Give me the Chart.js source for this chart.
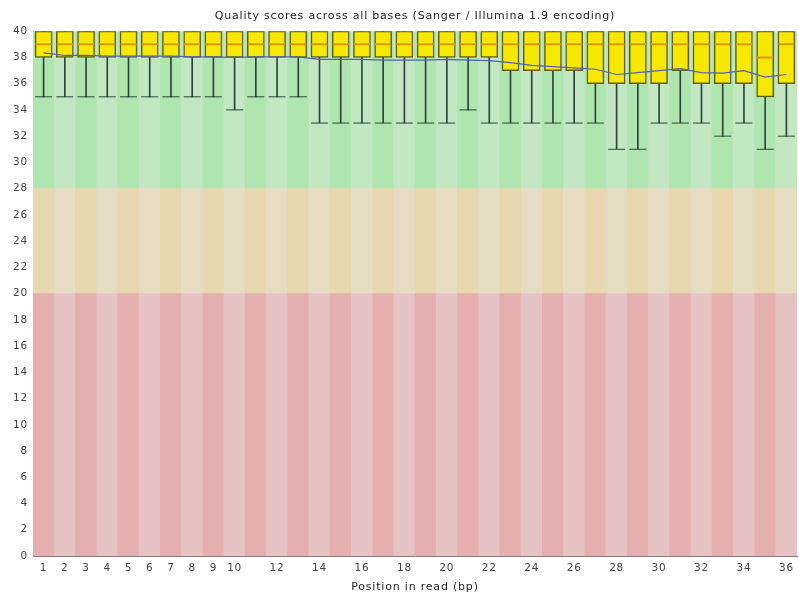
<!DOCTYPE html>
<html>
<head>
<meta charset="utf-8">
<script src="https://cdn.jsdelivr.net/npm/chart.js@4.4.0/dist/chart.umd.min.js"></script>
<style>
  body { margin: 0; background: #fff; }
  #wrap { width: 799px; height: 594px; }
</style>
</head>
<body>
<div id="wrap"><canvas id="myChart" width="799" height="594"></canvas></div>
<script>
    // per-base quality summary, positions 1..36
    var positions = [];
    for (var i = 1; i <= 36; i++) positions.push(String(i));

    var lowerQuartile = [38, 38, 38, 38, 38, 38, 38, 38, 38, 38, 38, 38, 38, 38, 38, 38, 38, 38,
                         38, 38, 38, 38, 37, 37, 37, 37, 36, 36, 36, 36, 37, 36, 36, 36, 35, 36];
    var upperQuartile = [40, 40, 40, 40, 40, 40, 40, 40, 40, 40, 40, 40, 40, 40, 40, 40, 40, 40,
                         40, 40, 40, 40, 40, 40, 40, 40, 40, 40, 40, 40, 40, 40, 40, 40, 40, 40];
    var medians = [39, 39, 39, 39, 39, 39, 39, 39, 39, 39, 39, 39, 39, 39, 39, 39, 39, 39,
                   39, 39, 39, 39, 39, 39, 39, 39, 39, 39, 39, 39, 39, 39, 39, 39, 38, 39];
    var tenthPercentile = [35, 35, 35, 35, 35, 35, 35, 35, 35, 34, 35, 35, 35, 33, 33, 33, 33, 33,
                           33, 33, 34, 33, 33, 33, 33, 33, 33, 31, 31, 33, 33, 33, 32, 33, 31, 32];
    var ninetiethPercentile = [40, 40, 40, 40, 40, 40, 40, 40, 40, 40, 40, 40, 40, 40, 40, 40, 40, 40,
                               40, 40, 40, 40, 40, 40, 40, 40, 40, 40, 40, 40, 40, 40, 40, 40, 40, 40];
    var means = [38.35, 38.15, 38.15, 38.1, 38.1, 38.1, 38.1, 38.05, 38.05, 38.0, 38.05, 38.05,
                 38.05, 37.85, 37.85, 37.85, 37.8, 37.8, 37.8, 37.85, 37.8, 37.75, 37.6, 37.4,
                 37.3, 37.2, 37.1, 36.7, 36.85, 37.0, 37.15, 36.85, 36.8, 37.0, 36.5, 36.7];

    // quality zones: poor / reasonable / good
    var zoneLimits = [0, 20, 28, 40];

    window.onload = function () {
        var ctx = document.getElementById('myChart').getContext('2d');

        function zone(lo, hi) {
            return positions.map(function () { return [lo, hi]; });
        }
        function stripes(c1, c2) {
            return positions.map(function (p, i) { return i % 2 === 0 ? c1 : c2; });
        }
        function pairs(a, b) {
            return a.map(function (v, i) { return [v, b[i]]; });
        }
        var bg = {
            type: 'bar', grouped: false, barPercentage: 1, categoryPercentage: 1,
            borderWidth: 0, order: 10
        };

        var datasets = [
            Object.assign({ data: zone(zoneLimits[0], zoneLimits[1]),
                backgroundColor: stripes('rgb(230,175,175)', 'rgb(230,195,195)') }, bg),
            Object.assign({ data: zone(zoneLimits[1], zoneLimits[2]),
                backgroundColor: stripes('rgb(230,215,175)', 'rgb(230,220,195)') }, bg),
            Object.assign({ data: zone(zoneLimits[2], zoneLimits[3]),
                backgroundColor: stripes('rgb(175,230,175)', 'rgb(195,230,195)') }, bg),
            {
                type: 'bar', data: pairs(tenthPercentile, lowerQuartile), grouped: false,
                barThickness: 1, backgroundColor: 'rgb(45,70,55)', borderWidth: 0, order: 6
            },
            {
                type: 'bar', data: pairs(upperQuartile, ninetiethPercentile), grouped: false,
                barThickness: 1, backgroundColor: 'rgb(45,70,55)', borderWidth: 0, order: 6
            },
            {
                type: 'bar', data: pairs(lowerQuartile, upperQuartile), grouped: false,
                barThickness: 17, backgroundColor: 'rgb(246,232,0)',
                borderColor: 'rgb(100,92,20)', borderWidth: 1.5, borderSkipped: false, order: 5
            },
            {
                type: 'line', data: tenthPercentile, showLine: false, pointStyle: 'line',
                pointRadius: 8.5, pointBorderColor: 'rgb(45,70,55)', pointBorderWidth: 1, order: 4
            },
            {
                type: 'line', data: medians, showLine: false, pointStyle: 'line',
                pointRadius: 8, pointBorderColor: 'rgb(225,150,10)', pointBorderWidth: 2, order: 3
            },
            {
                type: 'line', data: means, borderColor: 'rgb(80,100,175)', borderWidth: 1.2,
                pointRadius: 0, tension: 0, fill: false, order: 1
            }
        ];

        // the original text is rendered with wide spacing
        var spacing = {
            id: 'spacing',
            beforeLayout: function (chart) { chart.ctx.letterSpacing = '0.8px'; },
            beforeDraw: function (chart) { chart.ctx.letterSpacing = '0.8px'; }
        };

        new Chart(ctx, {
            data: { labels: positions, datasets: datasets },
            plugins: [spacing],
            options: {
                responsive: false,
                animation: false,
                layout: { autoPadding: false, padding: { left: 0, right: 2, top: 0, bottom: 0 } },
                plugins: {
                    legend: { display: false },
                    tooltip: { enabled: false },
                    title: {
                        display: true,
                        fullSize: false,
                        text: 'Quality scores across all bases (Sanger / Illumina 1.9 encoding)',
                        color: '#222',
                        font: { family: 'DejaVu Sans', size: 11, weight: 'normal' },
                        padding: { top: 10, bottom: 8 }
                    }
                },
                scales: {
                    x: {
                        type: 'category',
                        offset: true,
                        grid: { display: false, drawTicks: false },
                        border: { display: true, color: 'rgb(150,120,120)', width: 1 },
                        ticks: {
                            autoSkip: false, maxRotation: 0, padding: 6, color: '#444',
                            font: { family: 'DejaVu Sans', size: 10.5 },
                            callback: function (v, i) {
                                return (i < 10 || i % 2 === 1) ? positions[i] : '';
                            }
                        },
                        title: {
                            display: true, text: 'Position in read (bp)', color: '#222',
                            font: { family: 'DejaVu Sans', size: 11 },
                            padding: { top: 7, bottom: 0 }
                        },
                        afterFit: function (scale) {
                            scale.height = 38;
                            scale.paddingLeft = 0;
                            scale.paddingRight = 0;
                        }
                    },
                    y: {
                        min: 0, max: 40,
                        grid: { display: false, drawTicks: false },
                        border: { display: true, color: 'rgb(120,120,120)', width: 1 },
                        ticks: {
                            stepSize: 2, padding: 5, color: '#444',
                            font: { family: 'DejaVu Sans', size: 10.5 }
                        },
                        afterFit: function (scale) {
                            scale.width = 33;
                            scale.paddingBottom = 0;
                        }
                    }
                }
            }
        });
    };
</script>
</body>
</html>
